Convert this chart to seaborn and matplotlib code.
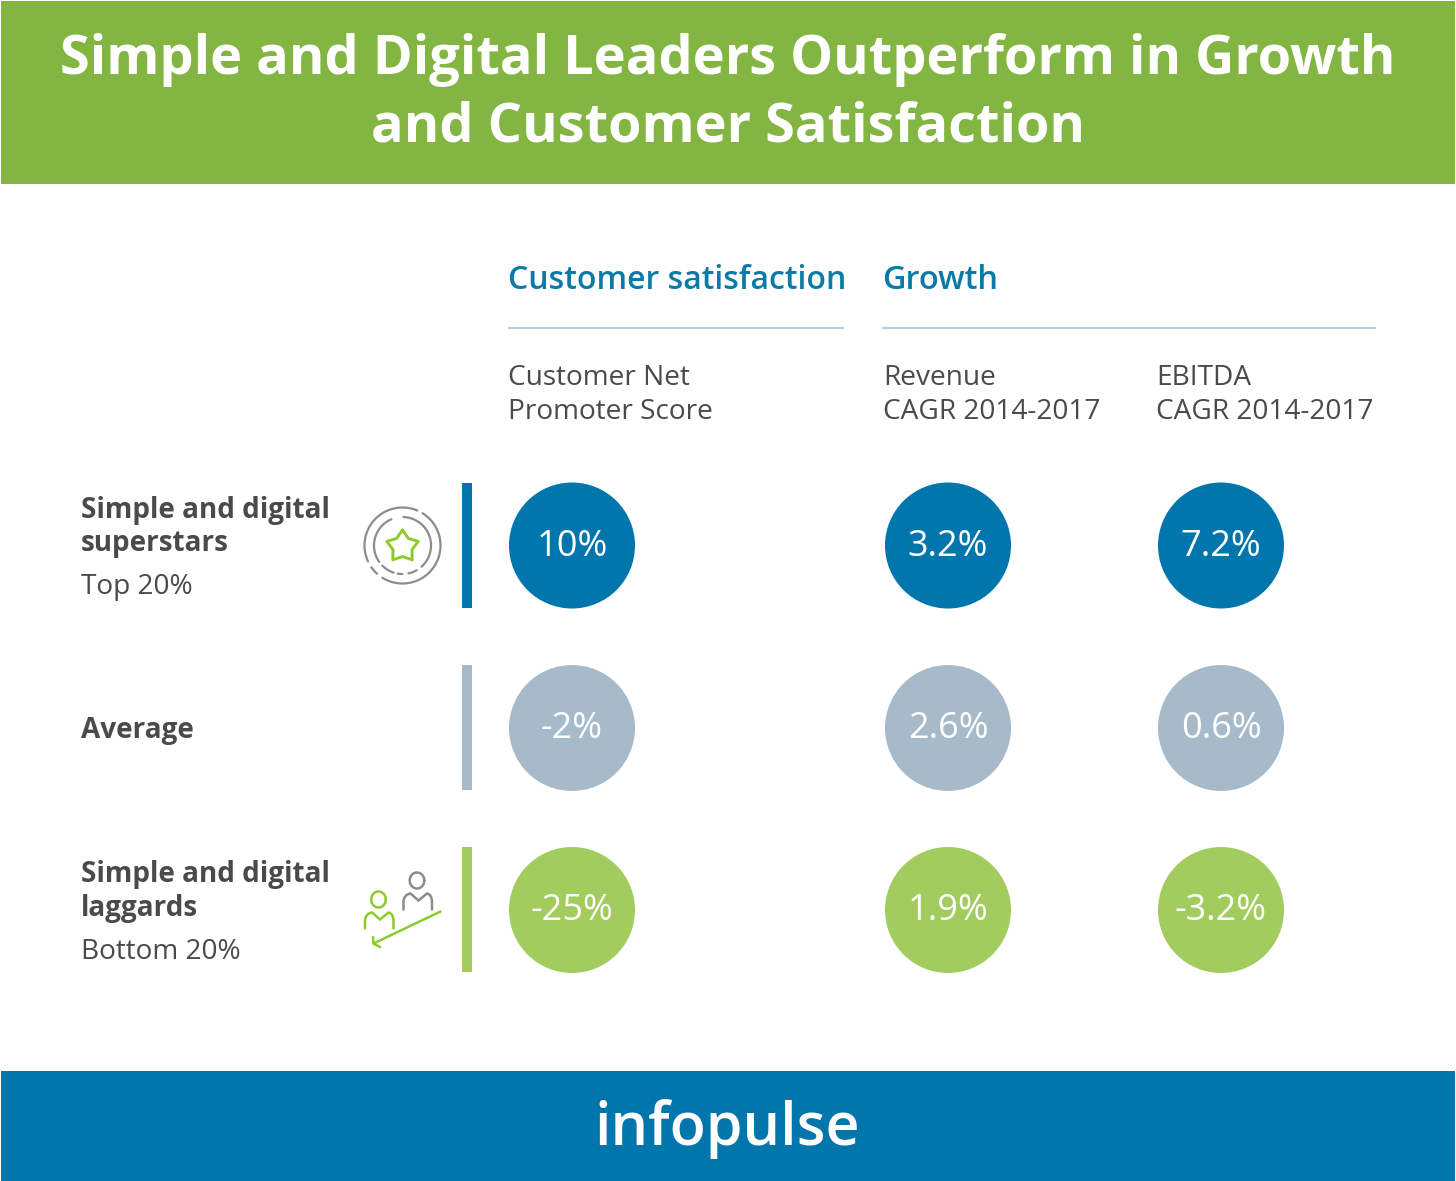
import numpy as np
import pandas as pd
import matplotlib.pyplot as plt
import seaborn as sns
from matplotlib.patches import PathPatch, Rectangle
from matplotlib.path import Path

title_lines = ['Simple and Digital Leaders Outperform in Growth', 'and Customer Satisfaction']
groups = ['superstars', 'average', 'laggards']
metrics = ['nps', 'revenue', 'ebitda']
nps_values = [10, -2, -25]
revenue_values = [3.2, 2.6, 1.9]
ebitda_values = [7.2, 0.6, -3.2]

BLUE = '#0076AC'
HEAD_BLUE = '#0B7AA9'
GREY = '#A7BAC9'
LIGHT_GREEN = '#A3CC5E'
BAND_GREEN = '#82B541'
ICON_GREEN = '#8CCB2A'
ICON_GREY = '#8C8C8C'
RULE = '#BCCFE2'
TEXT = '#4A4A4A'
FONT = 'Open Sans'

# layout in pixels of the 1456x1181 canvas
col_x = {'nps': 572, 'revenue': 948, 'ebitda': 1221}
row_y = {'superstars': 545.5, 'average': 728, 'laggards': 910}
palette = {'superstars': BLUE, 'average': GREY, 'laggards': LIGHT_GREEN}
CIRCLE_PX = 126

sns.set_theme(style='white')
plt.rcParams['font.family'] = [FONT, 'DejaVu Sans']

fig = plt.figure(figsize=(14.56, 11.81), dpi=100)
ax = fig.add_axes([0, 0, 1, 1])
ax.set_xlim(0, 1456)
ax.set_ylim(1181, 0)
ax.axis('off')

# bands
ax.add_patch(Rectangle((1, 1), 1454, 183, color=BAND_GREEN, lw=0))
ax.add_patch(Rectangle((1, 1071), 1454, 110, color=BLUE, lw=0))
ax.text(728, 74, title_lines[0], color='white', fontsize=39, fontweight='bold', ha='center', va='baseline')
ax.text(728, 141, title_lines[1], color='white', fontsize=39, fontweight='bold', ha='center', va='baseline')
ax.text(727, 1145, 'infopulse', color='white', fontsize=42.6, fontweight='semibold', ha='center', va='baseline')

# column headers
ax.text(507.5, 289, 'Customer satisfaction', color=HEAD_BLUE, fontsize=23, fontweight='semibold', va='baseline')
ax.text(882.5, 289, 'Growth', color=HEAD_BLUE, fontsize=23.4, fontweight='semibold', va='baseline')
ax.plot([508, 844], [328, 328], color=RULE, lw=1.6, solid_capstyle='butt')
ax.plot([882, 1376], [328, 328], color=RULE, lw=1.6, solid_capstyle='butt')
sub_heads = [(507.5, 'Customer Net', 'Promoter Score'),
             (883, 'Revenue', 'CAGR 2014-2017'),
             (1156, 'EBITDA', 'CAGR 2014-2017')]
for x, top, bottom in sub_heads:
    ax.text(x, 385, top, color=TEXT, fontsize=20.2, va='baseline')
    ax.text(x, 419, bottom, color=TEXT, fontsize=20.2, va='baseline')

# row labels
for y, s in [(518, 'Simple and digital'), (551, 'superstars'), (738, 'Average'),
             (882, 'Simple and digital'), (916, 'laggards')]:
    ax.text(81, y, s, color=TEXT, fontsize=20.1, fontweight='bold', va='baseline')
ax.text(81, 594, 'Top 20%', color=TEXT, fontsize=20.2, va='baseline')
ax.text(81, 959, 'Bottom 20%', color=TEXT, fontsize=20.2, va='baseline')

# colour bars beside the rows
for g in groups:
    ax.add_patch(Rectangle((462, row_y[g] - 63), 10, 125, color=palette[g], lw=0))

# circles
df = pd.DataFrame({'nps': nps_values, 'revenue': revenue_values, 'ebitda': ebitda_values}, index=groups)
df = df.rename_axis('group').reset_index().melt('group', var_name='metric', value_name='value')
df['x'] = df['metric'].map(col_x)
df['y'] = df['group'].map(row_y)
size = (CIRCLE_PX * 72 / fig.dpi) ** 2
sns.scatterplot(data=df, x='x', y='y', hue='group', palette=palette, s=size, linewidth=0,
                legend=False, ax=ax, clip_on=False)
ax.set_xlabel('')
ax.set_ylabel('')
for _, row in df.iterrows():
    ax.text(row['x'], row['y'] + 10.5, f"{row['value']:g}%", color='white', fontsize=26,
            ha='center', va='baseline')


# star icon
def arc(cx, cy, r, a0, a1, color=ICON_GREY, lw=1.6):
    t = np.radians(np.linspace(a0, a1, 60))
    ax.plot(cx + r * np.cos(t), cy - r * np.sin(t), color=color, lw=lw, solid_capstyle='round')


for a0, a1 in [(67, 205), (215, 228), (238, 418)]:
    arc(402.5, 545.5, 38, a0, a1)
for a0, a1 in [(113, 215), (225, 252), (260, 270), (282, 300), (312, 448)]:
    arc(402.5, 545.5, 28.5, a0, a1)
t = np.radians(90 + 36 * np.arange(11))
r = np.where(np.arange(11) % 2 == 0, 16.5, 10)
ax.plot(402.5 + r * np.cos(t), 546.5 - r * np.sin(t), color=ICON_GREEN, lw=2.1, solid_joinstyle='round')


# people icon, coordinates relative to the head of the person
def person(hx, hy, color):
    t = np.linspace(0, 2 * np.pi, 50)
    ax.plot(hx + 7.3 * np.cos(t), hy + 8 * np.sin(t), color=color, lw=1.8)
    verts = [(-13.5, 29), (-13.5, 22), (-13.5, 14), (-6.5, 13), (1.5, 20), (10, 13), (15, 14), (15, 22), (15, 29)]
    codes = [Path.MOVETO, Path.LINETO, Path.CURVE3, Path.CURVE3, Path.LINETO, Path.LINETO, Path.CURVE3, Path.CURVE3, Path.LINETO]
    verts = [(hx + a, hy + b) for a, b in verts]
    ax.add_patch(PathPatch(Path(verts, codes), fill=False, edgecolor=color, lw=1.8, capstyle='round'))


person(378.5, 899.5, ICON_GREEN)
person(417, 880.5, ICON_GREY)
ax.plot([440.5, 373.5], [911.5, 943.5], color=ICON_GREEN, lw=1.8, solid_capstyle='round')
ax.plot([373, 373.5, 380], [937, 943.5, 947], color=ICON_GREEN, lw=1.8, solid_capstyle='round', solid_joinstyle='round')

fig.savefig('out.png', dpi=100, facecolor='white')
